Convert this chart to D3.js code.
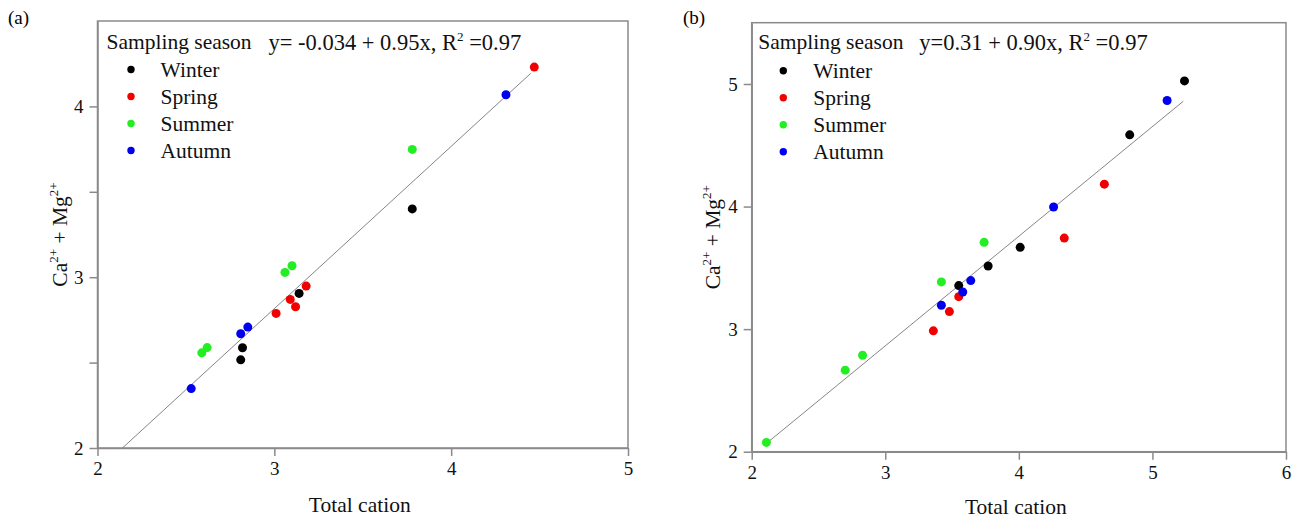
<!DOCTYPE html>
<meta charset="utf-8">
<style>
    body { margin: 0; background: #fff; }
    svg { display: block; font-family: "Liberation Serif", "Times New Roman", serif; }
    .frame { fill: none; stroke: #8a8a8a; stroke-width: 1.5px; }
    .axis path, .axis line { stroke: #8a8a8a; stroke-width: 1.5px; }
    .fit { stroke: #777; stroke-width: 0.9px; fill: none; }
    .lbl { font-size: 21.5px; fill: #111; }
</style>
<svg width="1299" height="522"></svg>
<script src="https://d3js.org/d3.v7.min.js"></script>
<script>

    var seasons = ["Winter", "Spring", "Summer", "Autumn"];
    var seasonColors = ["#000000", "#f00000", "#22ee22", "#0000ee"];

    // panel (a): [total cation, Ca2+ + Mg2+]
    var winterA = [[3.78, 3.40], [3.14, 2.905], [2.82, 2.587], [2.81, 2.516]];
    var springA = [[4.47, 4.23], [3.18, 2.948], [3.09, 2.87], [3.12, 2.827], [3.01, 2.788]];
    var summerA = [[3.78, 3.748], [3.06, 3.028], [3.10, 3.067], [2.62, 2.588], [2.59, 2.557]];
    var autumnA = [[4.31, 4.068], [2.85, 2.708], [2.81, 2.669], [2.53, 2.348]];
    var fitA = { intercept: -0.034, slope: 0.95, from: 2.141, to: 4.45 };
    var eqA = ["y= -0.034 + 0.95x, R", "2", " =0.97"];
    var xTicksA = [2, 3, 4, 5];
    var yTicksA = [2, 2.5, 3, 3.5, 4];

    // panel (b)
    var winterB = [[5.24, 5.025], [4.83, 4.585], [4.01, 3.667], [3.77, 3.515], [3.55, 3.355]];
    var springB = [[4.64, 4.183], [4.34, 3.743], [3.55, 3.265], [3.48, 3.143], [3.36, 2.986]];
    var summerB = [[3.74, 3.708], [3.42, 3.385], [2.83, 2.787], [2.70, 2.665], [2.11, 2.076]];
    var autumnB = [[5.11, 4.865], [4.26, 3.996], [3.64, 3.396], [3.58, 3.303], [3.42, 3.195]];
    var fitB = { intercept: 0.18, slope: 0.8945, from: 2.112, to: 5.231 };
    var eqB = ["y=0.31 + 0.90x, R", "2", " =0.97"];
    var xTicksB = [2, 3, 4, 5, 6];
    var yTicksB = [2, 3, 4, 5];

    var svg = d3.select("svg");

    var panels = [
        {
            tag: "(a)", tagX: 8, tagY: 24,
            left: 97.5, right: 628, top: 21, bottom: 448,
            xDomain: [2, 5], yDomain: [2, 4.5],
            xTicks: xTicksA, yTicks: yTicksA,
            series: [winterA, springA, summerA, autumnA],
            fit: fitA, eq: eqA,
            titleDx: 9, titleDy: 27.5, eqDx: 171, eqDy: 29,
            dotDx: 33.5, dotDy: 48.5, textDx: 63,
            yTitleX: 67, xTitleY: 512
        },
        {
            tag: "(b)", tagX: 683, tagY: 24,
            left: 751.7, right: 1286, top: 22.7, bottom: 451.7,
            xDomain: [2, 6], yDomain: [2, 5.5],
            xTicks: xTicksB, yTicks: yTicksB,
            series: [winterB, springB, summerB, autumnB],
            fit: fitB, eq: eqB,
            titleDx: 6.6, titleDy: 26.6, eqDx: 167.6, eqDy: 27,
            dotDx: 31.6, dotDy: 48, textDx: 61.6,
            yTitleX: 720, xTitleY: 514
        }
    ];

    panels.forEach(drawPanel);

    function drawPanel(p) {
        var x = d3.scaleLinear().domain(p.xDomain).range([p.left, p.right]);
        var y = d3.scaleLinear().domain(p.yDomain).range([p.bottom, p.top]);

        svg.append("text")
            .attr("x", p.tagX).attr("y", p.tagY)
            .style("font-size", "19px")
            .text(p.tag);

        svg.append("rect")
            .attr("class", "frame")
            .attr("x", p.left).attr("y", p.top)
            .attr("width", p.right - p.left).attr("height", p.bottom - p.top);

        svg.append("g")
            .attr("class", "axis")
            .attr("transform", "translate(0," + p.bottom + ")")
            .call(d3.axisBottom(x).tickValues(p.xTicks).tickSize(8).tickSizeOuter(0).tickPadding(6).tickFormat(d3.format("d")))
            .attr("font-family", "Liberation Serif, serif")
            .attr("font-size", 19)
            .selectAll("text").attr("fill", "#111");

        svg.append("g")
            .attr("class", "axis")
            .attr("transform", "translate(" + p.left + ",0)")
            .call(d3.axisLeft(y).tickValues(p.yTicks).tickSize(8).tickSizeOuter(0).tickPadding(6)
                .tickFormat(function (d) { return d % 1 === 0 ? d : ""; }))
            .attr("font-family", "Liberation Serif, serif")
            .attr("font-size", 19)
            .selectAll("text").attr("fill", "#111");

        // regression line
        svg.append("line")
            .attr("class", "fit")
            .attr("x1", x(p.fit.from)).attr("y1", y(p.fit.intercept + p.fit.slope * p.fit.from))
            .attr("x2", x(p.fit.to)).attr("y2", y(p.fit.intercept + p.fit.slope * p.fit.to));

        // points
        p.series.forEach(function (s, i) {
            svg.append("g").selectAll("circle")
                .data(s)
                .enter().append("circle")
                .attr("cx", function (d) { return x(d[0]); })
                .attr("cy", function (d) { return y(d[1]); })
                .attr("r", 4.5)
                .style("fill", seasonColors[i]);
        });

        // legend
        svg.append("text")
            .attr("class", "lbl")
            .attr("x", p.left + p.titleDx).attr("y", p.top + p.titleDy)
            .text("Sampling season");

        var eq = svg.append("text")
            .attr("class", "lbl")
            .style("font-size", "22.5px")
            .attr("x", p.left + p.eqDx).attr("y", p.top + p.eqDy);
        eq.append("tspan").text(p.eq[0]);
        eq.append("tspan").attr("dy", -9).style("font-size", "13px").text(p.eq[1]);
        eq.append("tspan").attr("dy", 9).text(p.eq[2]);

        seasons.forEach(function (name, i) {
            var cy = p.top + p.dotDy + i * 27;
            svg.append("circle")
                .attr("cx", p.left + p.dotDx).attr("cy", cy)
                .attr("r", 3.7)
                .style("fill", seasonColors[i]);
            svg.append("text")
                .attr("class", "lbl")
                .attr("x", p.left + p.textDx).attr("y", cy + 7)
                .text(name);
        });

        // axis titles
        svg.append("text")
            .attr("class", "lbl")
            .attr("text-anchor", "middle")
            .attr("x", (p.left + p.right) / 2 - 3).attr("y", p.xTitleY)
            .text("Total cation");

        var yMid = (p.top + p.bottom) / 2;
        var yt = svg.append("text")
            .attr("class", "lbl")
            .attr("text-anchor", "middle")
            .attr("transform", "translate(" + p.yTitleX + "," + yMid + ") rotate(-90)");
        yt.append("tspan").text("Ca");
        yt.append("tspan").attr("dy", -9).style("font-size", "13px").text("2+");
        yt.append("tspan").attr("dy", 9).text(" + Mg");
        yt.append("tspan").attr("dy", -9).style("font-size", "13px").text("2+");
    }

</script>
